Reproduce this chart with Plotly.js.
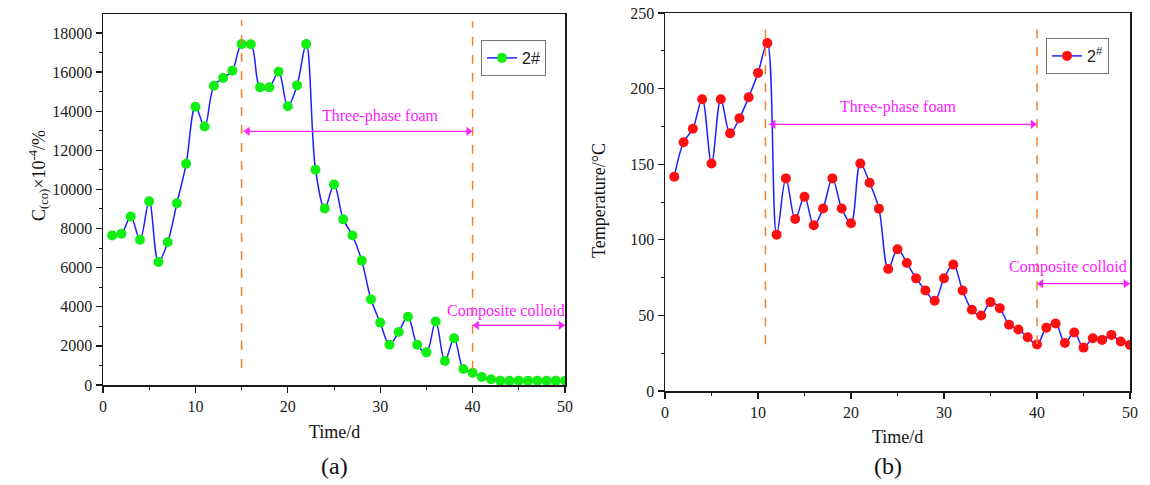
<!DOCTYPE html>
<html>
<head>
<meta charset="utf-8">
<script src="https://cdn.plot.ly/plotly-3.0.1.min.js"></script>
<style>html,body{margin:0;padding:0;background:#fff;}#chart{width:1150px;height:485px;}</style>
</head>
<body>
<div id="chart"></div>
<script>
var days = [];
for (var d = 1; d <= 50; d++) days.push(d);

var coValues = [7650, 7735, 8620, 7430, 9390, 6290, 7300, 9290, 11310, 14230,
                13220, 15300, 15700, 16070, 17430, 17420, 15220, 15220, 16020, 14250,
                15320, 17430, 11010, 9030, 10250, 8470, 7645, 6360, 4380, 3190,
                2060, 2710, 3490, 2060, 1670, 3250, 1230, 2390, 820, 630,
                410, 290, 220, 220, 220, 220, 220, 220, 220, 220];

var tempValues = [141.7, 164.5, 173.5, 193, 150.5, 193, 170.4, 180.4, 194.3, 210.4,
                  230.1, 103.4, 140.6, 113.8, 128.4, 109.6, 120.7, 140.6, 120.7, 111,
                  150.5, 137.7, 120.6, 80.7, 93.8, 84.7, 74.5, 66.5, 59.7, 74.5,
                  83.6, 66.5, 53.7, 49.9, 58.8, 54.8, 43.8, 40.7, 35.6, 30.7,
                  41.8, 44.6, 31.8, 38.7, 28.7, 34.9, 33.8, 37.1, 32.7, 30.5];

var seriesNameA = "2#";
var seriesNameB = "2<sup>#</sup>";
var phaseLabels = ["Three-phase foam", "Composite colloid"];
var xTitle = "Time/d";
var yTitleA = "C<sub>(co)</sub>×10<sup>-4</sup>/%";
var yTitleB = "Temperature/°C";
var panelLabels = ["(a)", "(b)"];

// phase boundaries (day) and arrow levels
var phaseA = {start: 15.2, mid: 40, end: 50, foamY: 12970, colloidY: 3050};
var phaseB = {start: 11.2, mid: 40, end: 50, foamY: 176.4, colloidY: 71};

var serif = "Liberation Serif, Times New Roman, serif";
var axisCommon = {
  showgrid: false, zeroline: false, showline: true, linecolor: "#1a1a1a", linewidth: 1.5,
  mirror: true, ticks: "outside", ticklen: 6, tickwidth: 1.3, tickcolor: "#1a1a1a",
  tickfont: {family: serif, size: 16, color: "#222"}, tickformat: "d",
  minor: {ticks: "outside", ticklen: 3, tickwidth: 1, tickcolor: "#1a1a1a"}
};

var magenta = "#ff22ff";
var orange = "#f5822a";

function heads(xa, ya, xs, ys, syms, off) {
  var xx = xs.map(function (v, i) { return v + (syms[i] === "triangle-left" ? off : -off); });
  return {x: xx, y: ys, xaxis: xa, yaxis: ya, mode: "markers", showlegend: false, hoverinfo: "skip",
          marker: {symbol: syms, size: 8, color: magenta, line: {width: 0}}};
}

var traces = [
  {x: days, y: coValues, xaxis: "x", yaxis: "y", name: seriesNameA, legend: "legend", showlegend: true,
   mode: "lines+markers", line: {color: "#1f1fff", width: 1.5, shape: "spline", smoothing: 1},
   marker: {color: "#11ee11", size: 10}},
  {x: days, y: tempValues, xaxis: "x2", yaxis: "y2", name: seriesNameB, legend: "legend2", showlegend: true,
   mode: "lines+markers", line: {color: "#1f1fff", width: 1.5, shape: "spline", smoothing: 1},
   marker: {color: "#ff1010", size: 10}},
  heads("x", "y", [phaseA.start, phaseA.mid, phaseA.mid, phaseA.end],
        [phaseA.foamY, phaseA.foamY, phaseA.colloidY, phaseA.colloidY],
        ["triangle-left", "triangle-right", "triangle-left", "triangle-right"], 0.45),
  heads("x2", "y2", [phaseB.start, phaseB.mid, phaseB.mid, phaseB.end],
        [phaseB.foamY, phaseB.foamY, phaseB.colloidY, phaseB.colloidY],
        ["triangle-left", "triangle-right", "triangle-left", "triangle-right"], 0.45)
];

function hline(xr, yr, x0, x1, y) {
  return {type: "line", xref: xr, yref: yr, x0: x0, x1: x1, y0: y, y1: y, line: {color: magenta, width: 1.2}};
}
function vdash(xr, yr, x, y0, y1) {
  return {type: "line", xref: xr, yref: yr, x0: x, x1: x, y0: y0, y1: y1, line: {color: orange, width: 1.5, dash: "dash"}};
}
function label(xr, yr, x, y, txt) {
  return {xref: xr, yref: yr, x: x, y: y, text: txt, showarrow: false,
          font: {family: serif, size: 16, color: magenta}};
}
function ptext(x, y, txt, size, angle) {
  return {xref: "paper", yref: "paper", x: x, y: y, text: txt, showarrow: false,
          xanchor: "center", yanchor: "middle", textangle: angle || 0,
          font: {family: serif, size: size, color: "#111"}};
}

var legendCommon = {xanchor: "left", yanchor: "top", bgcolor: "#fff", bordercolor: "#777", borderwidth: 1,
  font: {family: "Liberation Sans, Arial, sans-serif", size: 16, color: "#222"}, tracegroupgap: 0, itemwidth: 30};

var layout = {
  width: 1150, height: 485, margin: {l: 0, r: 0, t: 0, b: 0},
  paper_bgcolor: "#fff", plot_bgcolor: "#fff", showlegend: true,
  xaxis: Object.assign({}, axisCommon, {domain: [103/1150, 565/1150], range: [0, 50], dtick: 10, tick0: 0, minor: Object.assign({}, axisCommon.minor, {dtick: 5}), anchor: "y"}),
  yaxis: Object.assign({}, axisCommon, {domain: [(485-385)/485, (485-14)/485], range: [0, 18970], dtick: 2000, tick0: 0, minor: Object.assign({}, axisCommon.minor, {dtick: 1000}), anchor: "x"}),
  xaxis2: Object.assign({}, axisCommon, {domain: [665/1150, 1130/1150], range: [0, 50], dtick: 10, tick0: 0, minor: Object.assign({}, axisCommon.minor, {dtick: 5}), anchor: "y2"}),
  yaxis2: Object.assign({}, axisCommon, {domain: [(485-391)/485, (485-13)/485], range: [0, 250], dtick: 50, tick0: 0, minor: Object.assign({}, axisCommon.minor, {dtick: 25}), anchor: "x2"}),
  legend: Object.assign({}, legendCommon, {x: 481/1150, y: (485-40)/485, visible: true}),
  legend2: Object.assign({}, legendCommon, {x: 1046/1150, y: (485-38)/485, visible: true}),
  shapes: [
    vdash("x", "y", 15, 870, 18650),
    vdash("x", "y", 40, 780, 18600),
    vdash("x2", "y2", 10.8, 31, 240),
    vdash("x2", "y2", 40, 31, 240),
    hline("x", "y", phaseA.start, phaseA.mid, phaseA.foamY),
    hline("x", "y", phaseA.mid, phaseA.end, phaseA.colloidY),
    hline("x2", "y2", phaseB.start, phaseB.mid, phaseB.foamY),
    hline("x2", "y2", phaseB.mid, phaseB.end, phaseB.colloidY)
  ],
  annotations: [
    label("x", "y", 30, 13750, phaseLabels[0]),
    label("x", "y", 43.6, 3800, phaseLabels[1]),
    label("x2", "y2", 25.0, 188, phaseLabels[0]),
    label("x2", "y2", 43.3, 82, phaseLabels[1]),
    ptext(334/1150, (485-432)/485, xTitle, 18),
    ptext(897/1150, (485-437)/485, xTitle, 18),
    ptext(334/1150, (485-466)/485, panelLabels[0], 24),
    ptext(888/1150, (485-466)/485, panelLabels[1], 24),
    ptext(38/1150, (485-176)/485, yTitleA, 18, -90),
    ptext(599/1150, (485-200)/485, yTitleB, 18, -90)
  ]
};

Plotly.newPlot("chart", traces, layout, {displayModeBar: false, staticPlot: true});
</script>
</body>
</html>
